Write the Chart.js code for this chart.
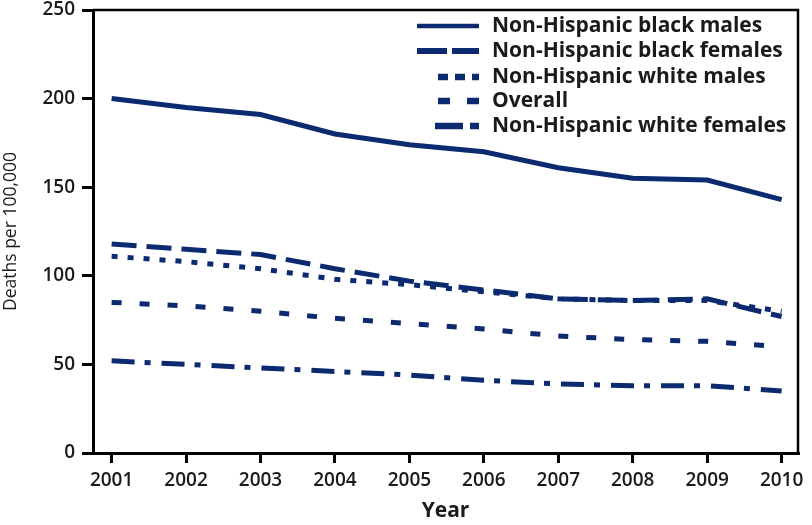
<!DOCTYPE html>
<html>
<head>
<meta charset="utf-8">
<script src="https://cdn.jsdelivr.net/npm/chart.js@4.4.1/dist/chart.umd.min.js"></script>
<style>
    html, body { margin: 0; padding: 0; background: #fff; }
    #wrap { width: 812px; height: 525px; }
</style>
</head>
<body>
<div id="wrap"><canvas id="chart" width="812" height="525"></canvas></div>
<script>
const years = [2001, 2002, 2003, 2004, 2005, 2006, 2007, 2008, 2009, 2010];
const blackMales = [200, 195, 191, 180, 174, 170, 161, 155, 154, 143];
const blackFemales = [118, 115, 112, 104, 97, 92, 87, 86, 87, 77];
const whiteMales = [111, 108, 104, 98, 95, 91, 87, 86, 86, 80];
const overall = [85, 83, 80, 76, 73, 70, 66, 64, 63, 60];
const whiteFemales = [52, 50, 48, 46, 44, 41, 39, 38, 38, 35];
const yTicks = [0, 50, 100, 150, 200, 250];

const navy = '#0b2a6f';
const ink = '#1a1a1a';

function series(label, values, dash) {
    return {
        label: label,
        data: years.map((y, i) => ({ x: y, y: values[i] })),
        borderColor: navy,
        backgroundColor: navy,
        borderWidth: 5,
        borderDash: dash,
        borderCapStyle: 'butt',
        pointRadius: 0,
        tension: 0,
        fill: false
    };
}

// legend samples: where each one starts and its own dash pattern
const legendRows = [
    { y: 26, from: 417, dash: [], width: 4.5 },
    { y: 51, from: 417, dash: [30, 5], width: 6 },
    { y: 77, from: 438, dash: [10, 7], width: 6.5 },
    { y: 101, from: 438, dash: [12, 17], width: 6.5 },
    { y: 126, from: 435, dash: [28, 7, 9, 7], width: 6.5 }
];

// legend drawn in the top right of the plot, plus the box round the plot
const framePlugin = {
    id: 'frame',
    afterDraw(chart) {
        const ctx = chart.ctx;
        const a = chart.chartArea;
        ctx.save();
        ctx.strokeStyle = '#000';
        ctx.lineWidth = 2.5;
        ctx.beginPath();
        ctx.moveTo(a.left, a.top);
        ctx.lineTo(a.right, a.top);
        ctx.lineTo(a.right, a.bottom);
        ctx.stroke();

        chart.data.datasets.forEach((ds, i) => {
            const row = legendRows[i];
            ctx.strokeStyle = ds.borderColor;
            ctx.lineWidth = row.width;
            ctx.lineCap = 'butt';
            ctx.setLineDash(row.dash);
            ctx.beginPath();
            ctx.moveTo(row.from, row.y);
            ctx.lineTo(479, row.y);
            ctx.stroke();
            ctx.setLineDash([]);
            ctx.fillStyle = ink;
            ctx.font = '700 21px "Open Sans"';
            ctx.textBaseline = 'middle';
            ctx.fillText(ds.label, 492, row.y);
        });
        ctx.restore();
    }
};

new Chart(document.getElementById('chart'), {
    type: 'line',
    data: {
        datasets: [
            series('Non-Hispanic black males', blackMales, []),
            series('Non-Hispanic black females', blackFemales, [25, 10]),
            series('Non-Hispanic white males', whiteMales, [6, 10]),
            series('Overall', overall, [10, 18]),
            series('Non-Hispanic white females', whiteFemales, [23, 10, 6, 11])
        ]
    },
    options: {
        responsive: false,
        animation: false,
        layout: { padding: { top: 10, right: 14, left: 0, bottom: 0 } },
        plugins: {
            legend: { display: false },
            tooltip: { enabled: false }
        },
        scales: {
            x: {
                type: 'linear',
                min: 2000.75,
                max: 2010.22,
                afterFit(scale) { scale.height = 72; },
                afterBuildTicks(scale) { scale.ticks = years.map(v => ({ value: v })); },
                ticks: {
                    color: ink,
                    font: { family: 'Open Sans', size: 19, weight: '600' },
                    padding: 6,
                    maxRotation: 0,
                    callback: v => String(v)
                },
                grid: { drawOnChartArea: false, drawTicks: true, tickLength: 10, color: '#000', lineWidth: 3 },
                border: { color: '#000', width: 3 },
                title: {
                    display: true,
                    text: 'Year',
                    color: ink,
                    font: { family: 'Open Sans', size: 21, weight: '700' },
                    padding: { top: 0, bottom: 1 }
                }
            },
            y: {
                min: 0,
                max: 250,
                afterFit(scale) {
                    scale.width = 93;
                    scale.paddingTop = 0;
                    scale.paddingBottom = 0;
                },
                afterBuildTicks(scale) { scale.ticks = yTicks.map(v => ({ value: v })); },
                ticks: {
                    color: ink,
                    font: { family: 'Open Sans', size: 19, weight: '600' },
                    padding: 7
                },
                grid: { drawOnChartArea: false, drawTicks: true, tickLength: 11, color: '#000', lineWidth: 3 },
                border: { color: '#000', width: 3 },
                title: {
                    display: true,
                    text: 'Deaths per 100,000',
                    color: ink,
                    font: { family: 'Open Sans', size: 17.5 },
                    padding: { top: 1, bottom: 0 }
                }
            }
        }
    },
    plugins: [framePlugin]
});
</script>
</body>
</html>
